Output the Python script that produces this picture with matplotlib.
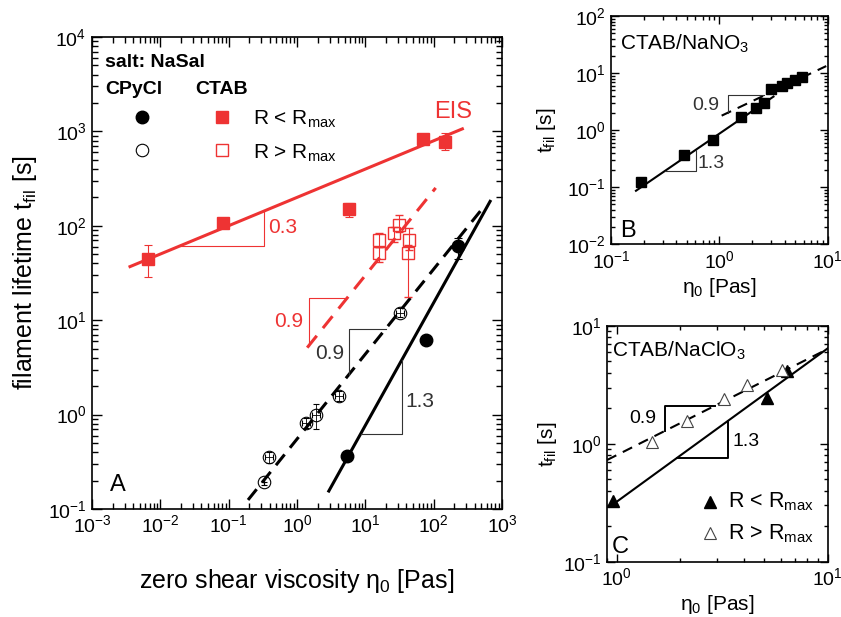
import numpy as np
import matplotlib
matplotlib.use("Agg")
import matplotlib.pyplot as plt

plt.rcParams['font.family'] = ['Liberation Sans', 'DejaVu Sans']
plt.rcParams['mathtext.fontset'] = 'custom'
plt.rcParams['mathtext.rm'] = 'Liberation Sans'
plt.rcParams['mathtext.it'] = 'Liberation Sans:italic'
plt.rcParams['mathtext.bf'] = 'Liberation Sans:bold'

RED = '#ee3333'

# --- A: salt NaSal ---
# CTAB, R < Rmax
ctab_lo_eta = [0.0065, 0.084, 5.7, 70, 145]
ctab_lo_t = [45, 106, 152, 830, 780]
ctab_lo_tmin = [29, 106, 125, 830, 631]
ctab_lo_tmax = [62, 106, 176, 830, 955]
# CTAB, R > Rmax
ctab_hi_eta = [16, 16, 26, 31, 44, 42]
ctab_hi_t = [70, 51, 83, 102, 71, 51]
ctab_hi_tmin = [60, 41, 68, 85, 55, 17.5]
ctab_hi_tmax = [84, 60, 96, 130, 94, 62]
# CPyCl, R < Rmax
cpy_lo_eta = [5.4, 78, 230]
cpy_lo_t = [0.364, 6.2, 61.5]
cpy_lo_tmin = [0.364, 6.2, 45]
cpy_lo_tmax = [0.364, 6.2, 74]
# CPyCl, R > Rmax
cpy_hi_eta = [0.325, 0.394, 1.36, 1.92, 4.1, 32]
cpy_hi_etamin = [0.325, 0.345, 1.19, 1.68, 3.6, 28]
cpy_hi_etamax = [0.325, 0.45, 1.55, 2.2, 4.7, 36.5]
cpy_hi_t = [0.195, 0.353, 0.81, 0.99, 1.58, 12]
cpy_hi_tmin = [0.18, 0.31, 0.72, 0.70, 1.40, 10.7]
cpy_hi_tmax = [0.195, 0.40, 0.91, 1.29, 1.78, 13.5]

# power-law fits t = a * eta^b, drawn between xmin and xmax
fit_ctab_lo = dict(a=200, b=0.3, xmin=0.0036, xmax=263)
fit_ctab_hi = dict(a=3.76, b=0.9, xmin=1.41, xmax=107)
fit_cpy_lo = dict(a=0.0385, b=1.3, xmin=2.92, xmax=670)
fit_cpy_hi = dict(a=0.551, b=0.9, xmin=0.192, xmax=489)

# --- B: CTAB/NaNO3 ---
nano3_eta = [0.189, 0.475, 0.87, 1.57, 2.18, 2.6, 2.98, 3.81, 4.25, 5.0, 5.77]
nano3_t = [0.125, 0.368, 0.67, 1.68, 2.4, 2.96, 5.2, 6.0, 6.6, 7.55, 8.4]
fit_nano3_lo = dict(a=0.869, b=1.3, xmin=0.17, xmax=3.16)
fit_nano3_hi = dict(a=1.72, b=0.9, xmin=1.05, xmax=9.7)

# --- C: CTAB/NaClO3 ---
clo3_lo_eta = [0.957, 5.16, 6.38]
clo3_lo_t = [0.329, 2.43, 4.15]
clo3_hi_eta = [1.46, 2.15, 3.22, 4.15, 6.09]
clo3_hi_t = [1.04, 1.56, 2.39, 3.15, 4.23]
fit_clo3_lo = dict(a=0.324, b=1.3, xmin=0.957, xmax=10)
fit_clo3_hi = dict(a=0.804, b=0.9, xmin=0.897, xmax=10)


def draw_fit(ax, fit, **kw):
    x = np.logspace(np.log10(fit['xmin']), np.log10(fit['xmax']), 50)
    ax.plot(x, fit['a'] * x ** fit['b'], **kw)


def slope_triangle(ax, fit, x1, x2, above, label, lx, ly, ha, color, lw, fs):
    f = lambda x: fit['a'] * x ** fit['b']
    if above:
        ax.plot([x1, x1, x2], [f(x1), f(x2), f(x2)], color=color, lw=lw)
    else:
        ax.plot([x1, x2, x2], [f(x1), f(x1), f(x2)], color=color, lw=lw)
    ax.text(lx, ly, label, color=color, fontsize=fs, ha=ha, va='center')


def style_log(ax, major=7, minor=4):
    ax.set_xscale('log')
    ax.set_yscale('log')
    ax.tick_params(which='both', direction='in', top=True, right=True, width=1)
    ax.tick_params(which='major', length=major, labelsize=14, pad=4)
    ax.tick_params(which='minor', length=minor)
    for s in ax.spines.values():
        s.set_linewidth(1.2)


fig = plt.figure(figsize=(8.41, 6.17), dpi=100)

# ---------------- panel A ----------------
ax = fig.add_axes([0.1094, 0.175, 0.4875, 0.765])
style_log(ax)
ax.set_xlim(1e-3, 1e3)
ax.set_ylim(1e-1, 1e4)

draw_fit(ax, fit_ctab_lo, color=RED, lw=2.2)
draw_fit(ax, fit_ctab_hi, color=RED, lw=2.2, dashes=(5, 3.2))
draw_fit(ax, fit_cpy_lo, color='black', lw=2.2)
draw_fit(ax, fit_cpy_hi, color='black', lw=2.2, dashes=(4.5, 2.8))

slope_triangle(ax, fit_ctab_lo, 0.0195, 0.333, False, '0.3', 0.38, 95, 'left', RED, 0.8, 15)
slope_triangle(ax, fit_ctab_hi, 1.49, 5.43, True, '0.9', 1.24, 9.6, 'right', RED, 0.8, 15)
slope_triangle(ax, fit_cpy_hi, 5.73, 19.8, True, '0.9', 4.9, 4.4, 'right', '#333333', 0.8, 15)
slope_triangle(ax, fit_cpy_lo, 8.5, 34, False, '1.3', 38.8, 1.37, 'left', '#333333', 0.8, 15)

t = np.array(ctab_lo_t)
ax.errorbar(ctab_lo_eta, ctab_lo_t, yerr=[t - ctab_lo_tmin, np.array(ctab_lo_tmax) - t],
            fmt='s', ms=9, color=RED, ecolor=RED, elinewidth=0.8, capsize=3, capthick=0.8)
t = np.array(ctab_hi_t)
ax.errorbar(ctab_hi_eta, ctab_hi_t, yerr=[t - ctab_hi_tmin, np.array(ctab_hi_tmax) - t],
            fmt='s', ms=9, mfc='none', mec=RED, mew=1.0, ecolor=RED,
            elinewidth=0.8, capsize=3, capthick=0.8)
t = np.array(cpy_lo_t)
ax.errorbar(cpy_lo_eta, cpy_lo_t, yerr=[t - cpy_lo_tmin, np.array(cpy_lo_tmax) - t],
            fmt='o', ms=9, color='black', elinewidth=0.8, capsize=3, capthick=0.8)
t = np.array(cpy_hi_t)
e = np.array(cpy_hi_eta)
ax.errorbar(cpy_hi_eta, cpy_hi_t, yerr=[t - cpy_hi_tmin, np.array(cpy_hi_tmax) - t],
            xerr=[e - cpy_hi_etamin, np.array(cpy_hi_etamax) - e],
            fmt='o', ms=9, mfc='none', mec='black', mew=0.8, ecolor='black',
            elinewidth=0.6, capsize=2.5, capthick=0.6)

# legend block
ax.text(0.032, 0.945, 'salt: NaSal', transform=ax.transAxes, fontsize=14,
        fontweight='bold', va='center')
ax.text(0.032, 0.888, 'CPyCl', transform=ax.transAxes, fontsize=14,
        fontweight='bold', va='center')
ax.text(0.251, 0.888, 'CTAB', transform=ax.transAxes, fontsize=14,
        fontweight='bold', va='center')
ax.plot([0.121], [0.831], 'o', ms=9, color='black', transform=ax.transAxes)
ax.plot([0.121], [0.761], 'o', ms=9, mfc='white', mec='black', mew=0.8,
        transform=ax.transAxes)
ax.plot([0.316], [0.831], 's', ms=8, color=RED, transform=ax.transAxes)
ax.plot([0.316], [0.761], 's', ms=8, mfc='none', mec=RED, mew=1.0,
        transform=ax.transAxes)
ax.text(0.392, 0.8136, r'R < R$_{\mathrm{max}}$', transform=ax.transAxes,
        fontsize=15, va='baseline')
ax.text(0.392, 0.743, r'R > R$_{\mathrm{max}}$', transform=ax.transAxes,
        fontsize=15, va='baseline')
ax.text(0.88, 0.842, 'EIS', transform=ax.transAxes, fontsize=17, color=RED,
        ha='center', va='center')
ax.text(0.044, 0.051, 'A', transform=ax.transAxes, fontsize=17, va='center')

ax.set_xlabel(r'zero shear viscosity η$_0$ [Pas]', fontsize=18, labelpad=22)
ax.set_ylabel(r'filament lifetime t$_{\mathrm{fil}}$ [s]', fontsize=18, labelpad=6)

# ---------------- panel B ----------------
bx = fig.add_axes([0.7265, 0.604, 0.2577, 0.37])
style_log(bx, major=6, minor=3)
bx.set_xlim(1e-1, 1e1)
bx.set_ylim(1e-2, 1e2)
draw_fit(bx, fit_nano3_lo, color='black', lw=1.5)
draw_fit(bx, fit_nano3_hi, color='black', lw=1.5, dashes=(5, 3.5))
slope_triangle(bx, fit_nano3_hi, 1.196, 2.6, True, '0.9', 0.99, 2.76, 'right', '#333333', 0.8, 14)
slope_triangle(bx, fit_nano3_lo, 0.315, 0.61, False, '1.3', 0.635, 0.263, 'left', '#333333', 0.8, 14)
bx.plot(nano3_eta, nano3_t, 's', ms=7.5, color='black')
bx.text(0.042, 0.854, r'CTAB/NaNO$_3$', transform=bx.transAxes, fontsize=15,
        va='baseline')
bx.text(0.042, 0.033, 'B', transform=bx.transAxes, fontsize=17, va='baseline')
bx.set_xlabel(r'η$_0$ [Pas]', fontsize=15, labelpad=3)
bx.set_ylabel(r't$_{\mathrm{fil}}$ [s]', fontsize=15, labelpad=6)

# ---------------- panel C ----------------
cx = fig.add_axes([0.7221, 0.0896, 0.2621, 0.382])
style_log(cx, major=6, minor=3)
cx.set_xlim(0.9, 10)
cx.set_ylim(1e-1, 1e1)
draw_fit(cx, fit_clo3_lo, color='black', lw=1.5)
draw_fit(cx, fit_clo3_hi, color='black', lw=1.5, dashes=(5, 3.5))
slope_triangle(cx, fit_clo3_hi, 1.686, 2.91, True, '0.9', 1.54, 1.65, 'right', 'black', 1.4, 14)
slope_triangle(cx, fit_clo3_lo, 1.937, 3.37, False, '1.3', 3.55, 1.04, 'left', 'black', 1.4, 14)
cx.plot(clo3_lo_eta, clo3_lo_t, '^', ms=9, color='black')
cx.plot(clo3_hi_eta, clo3_hi_t, '^', ms=9, mfc='white', mec='#444444', mew=0.8)
cx.plot([0.466], [0.252], '^', ms=9, color='black', transform=cx.transAxes)
cx.plot([0.466], [0.12], '^', ms=9, mfc='white', mec='#444444', mew=0.8,
        transform=cx.transAxes)
cx.text(0.549, 0.231, r'R < R$_{\mathrm{max}}$', transform=cx.transAxes,
        fontsize=15.5, va='baseline')
cx.text(0.549, 0.095, r'R > R$_{\mathrm{max}}$', transform=cx.transAxes,
        fontsize=15.5, va='baseline')
cx.text(0.02, 0.87, r'CTAB/NaClO$_3$', transform=cx.transAxes, fontsize=15,
        va='baseline')
cx.text(0.02, 0.036, 'C', transform=cx.transAxes, fontsize=17, va='baseline')
cx.set_xlabel(r'η$_0$ [Pas]', fontsize=15, labelpad=3)
cx.set_ylabel(r't$_{\mathrm{fil}}$ [s]', fontsize=15, labelpad=3)

fig.savefig('out.png', dpi=100)
